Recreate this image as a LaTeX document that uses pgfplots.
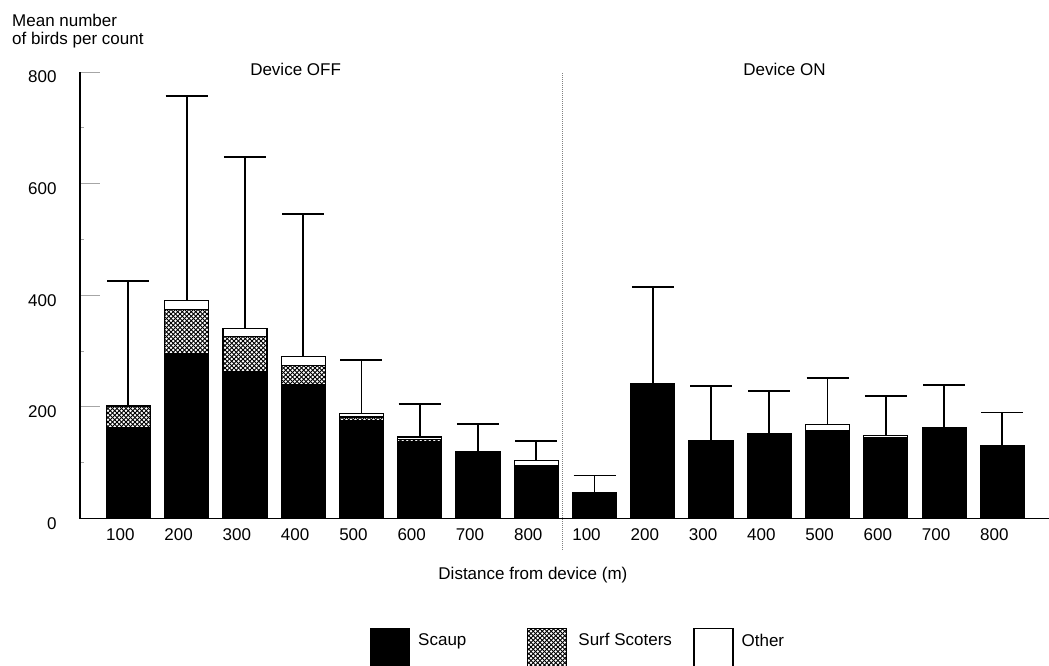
\documentclass[border=0pt]{standalone}
\usepackage{fontspec}
\setmainfont{Liberation Sans}
\usepackage{pgfplots}
\pgfplotsset{compat=1.18}
\usepackage{pgfplotstable}
\usetikzlibrary{patterns}
\pgfdeclarepatternformonly{dcross}{\pgfqpoint{-1pt}{-1pt}}{\pgfqpoint{5.5pt}{5.5pt}}{\pgfqpoint{4.5pt}{4.5pt}}{%
 \pgfsetlinewidth{0.9pt}%
 \pgfpathmoveto{\pgfqpoint{0pt}{0pt}}\pgfpathlineto{\pgfqpoint{4.5pt}{4.5pt}}%
 \pgfpathmoveto{\pgfqpoint{0pt}{4.5pt}}\pgfpathlineto{\pgfqpoint{4.5pt}{0pt}}%
 \pgfusepath{stroke}}
\newcommand\fs{\fontsize{17}{20}\selectfont}
\pgfplotstableread{
x scaup scot other up
0 163 38 2 426
1 295 80 16 757
2 264 62 15 648
3 240 34 16 546
4 175 7 6 284
5 137 4 5 205
6 118 0 1 169
7 95 0 9 139
8 47 0 0 77
9 241 0 0 415
10 139 0 0 238
11 153 0 0 228
12 157 0 11 252
13 145 0 4 220
14 162 0 0 239
15 131 0 0 190
}\birds
\begin{document}
\begin{tikzpicture}[font=\fs]
\path[use as bounding box] (0,0) rectangle (1049pt,-665pt);
\begin{axis}[at={(80pt,-518.5pt)}, anchor=south west, scale only axis,
 width=969pt, height=446.5pt,
 xmin=-0.83, xmax=15.8, ymin=0, ymax=800,
 axis x line=bottom, axis y line=left, axis line style={-, line width=1.3pt},
 ybar stacked, bar width=44pt,
 xtick={0,...,15},
 xticklabels={100,200,300,400,500,600,700,800,100,200,300,400,500,600,700,800},
 x tick style={draw=none}, xticklabel style={xshift=-8pt, yshift=-7pt},
 ytick={0,200,400,600,800}, minor ytick={100,300,500,700},
 tick align=inside, major tick length=20pt, minor tick length=4pt,
 y tick style={gray!70, line width=1pt},
 yticklabel style={xshift=-20pt, yshift=-5pt},
 /pgf/number format/assume math mode=true,
 tick label style={font=\fs},
 xlabel={Distance from device (m)},
 xlabel style={font=\fs, at={(axis description cs:0.4674,0)}, anchor=center, yshift=-56.5pt},
 clip=false,
 legend image code/.code={\draw[#1, line width=1.2pt] (0pt,-28pt) rectangle (39pt,12pt);},
 legend style={at={(axis description cs:0.2993,-0.2452)}, anchor=north west, draw=none,
   inner sep=0pt, outer sep=0pt, font=\fs,
   /tikz/every even column/.append style={column sep=19pt}},
 legend columns=3, legend cell align=left,
]
\addplot[fill=black, draw=black, line width=1.2pt] table[x=x, y=scaup] {\birds};
\addlegendentry{\hspace*{6pt}\makebox[88pt][l]{Scaup}}
\addplot[pattern=dcross, draw=black, line width=1.2pt] table[x=x, y=scot] {\birds};
\addlegendentry{\hspace*{9pt}\makebox[94pt][l]{Surf Scoters}}
\addplot[fill=white, draw=black, line width=1.2pt] table[x=x, y=other] {\birds};
\addlegendentry{\hspace*{6pt}Other}
\end{axis}
\begin{axis}[at={(80pt,-518.5pt)}, anchor=south west, scale only axis,
 width=969pt, height=446.5pt,
 xmin=-0.83, xmax=15.8, ymin=0, ymax=800, hide axis, clip=false]
\addplot[draw=none, mark=none, forget plot,
  error bars/.cd, y dir=plus, y explicit, error mark=|,
  error bar style={line width=1.8pt, black},
  error mark options={line width=1.8pt, mark size=21pt, black}]
  table[x=x, y expr=\thisrow{scaup}+\thisrow{scot}+\thisrow{other},
        y error plus expr=\thisrow{up}-\thisrow{scaup}-\thisrow{scot}-\thisrow{other}] {\birds};
\addplot[densely dotted, gray, line width=1pt, forget plot] coordinates {(7.45,-56) (7.45,800)};
\node[font=\fs] at (axis cs:2.87,805) {Device OFF};
\node[font=\fs] at (axis cs:11.26,805) {Device ON};
\end{axis}
\node[anchor=north west, inner sep=0pt, align=left, font=\fontsize{17}{17.5}\selectfont] at (12pt,-14pt) {Mean number\\of birds per count};
\end{tikzpicture}
\end{document}
